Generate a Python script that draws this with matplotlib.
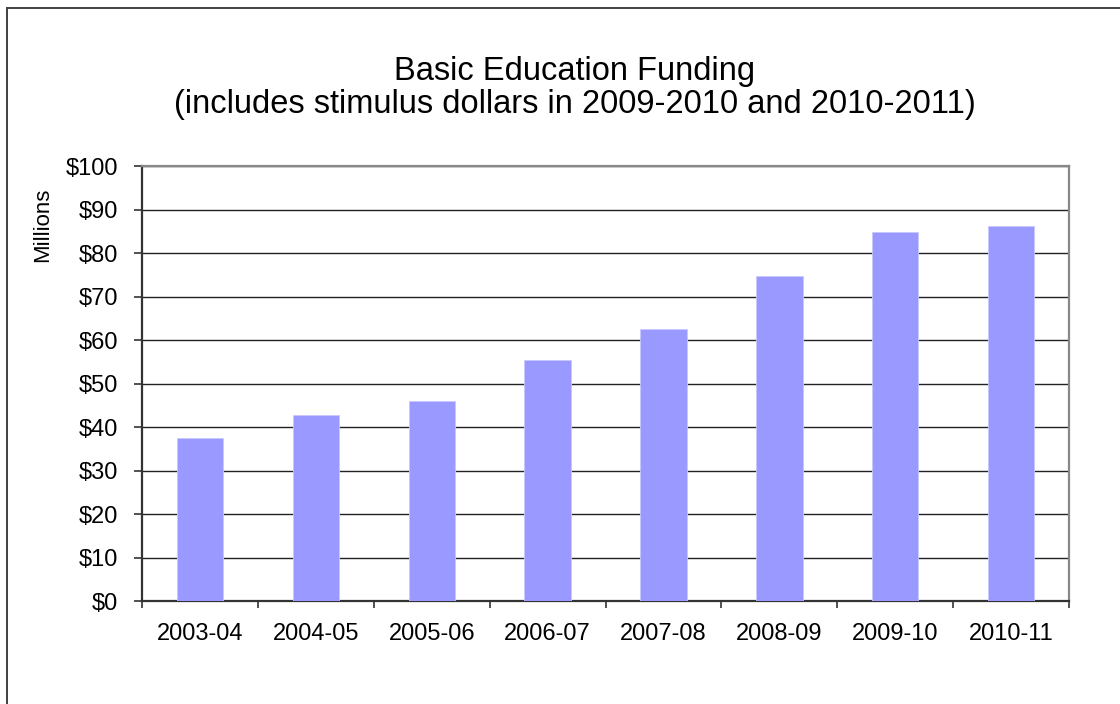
import matplotlib.pyplot as plt
from matplotlib.patches import Rectangle
from matplotlib.ticker import FuncFormatter

# Funding per school year, millions of dollars
years = ['2003-04', '2004-05', '2005-06', '2006-07',
         '2007-08', '2008-09', '2009-10', '2010-11']
funding = [37.4, 42.8, 46.0, 55.5, 62.5, 74.7, 84.9, 86.2]

plt.rcParams['font.family'] = ['Liberation Sans', 'DejaVu Sans']

fig = plt.figure(figsize=(11.2, 7.04), dpi=100)
ax = fig.add_axes([0.1268, 0.1463, 0.8277, 0.6179])

# outer chart frame (runs off the right and bottom edges)
fig.patches.append(Rectangle((7 / 1120, -0.05), 1.1, 1 - 8 / 704 + 0.05,
                             transform=fig.transFigure, fill=False,
                             edgecolor='#404040', linewidth=1.4))

x = range(len(years))
ax.bar(x, funding, width=0.4, color='#9999FF', edgecolor='#C8C8FF',
       linewidth=0.6, zorder=3)

ax.set_xlim(-0.5, len(years) - 0.5)
ax.set_ylim(0, 100)
ax.set_yticks(range(0, 101, 10))
ax.yaxis.set_major_formatter(FuncFormatter(lambda v, p: f'${v:.0f}'))
ax.set_xticks(x)
ax.set_xticklabels(years)

# category separators as x ticks
ax.set_xticks([i - 0.5 for i in range(len(years) + 1)], minor=True)
ax.tick_params(axis='x', which='major', length=0, pad=16, labelsize=17)
ax.tick_params(axis='x', which='minor', length=5, width=1.2, color='#333333')
ax.tick_params(axis='y', length=6, width=1.2, color='#333333', pad=11,
               labelsize=17)

ax.grid(axis='y', color='#222222', linewidth=1.0, zorder=0)
ax.set_axisbelow(True)

for side in ['left', 'bottom']:
    ax.spines[side].set_color('#333333')
    ax.spines[side].set_linewidth(1.6)
for side in ['top', 'right']:
    ax.spines[side].set_color('#888888')
    ax.spines[side].set_linewidth(1.6)

ax.set_ylabel('Millions', fontsize=16)
ax.yaxis.set_label_coords(-0.096, 0.865)

fig.text(0.513, 0.898, 'Basic Education Funding', ha='center',
         va='center', fontsize=23.5)
fig.text(0.513, 0.851,
         '(includes stimulus dollars in 2009-2010 and 2010-2011)',
         ha='center', va='center', fontsize=23.5)

fig.savefig('out.png', dpi=100)
